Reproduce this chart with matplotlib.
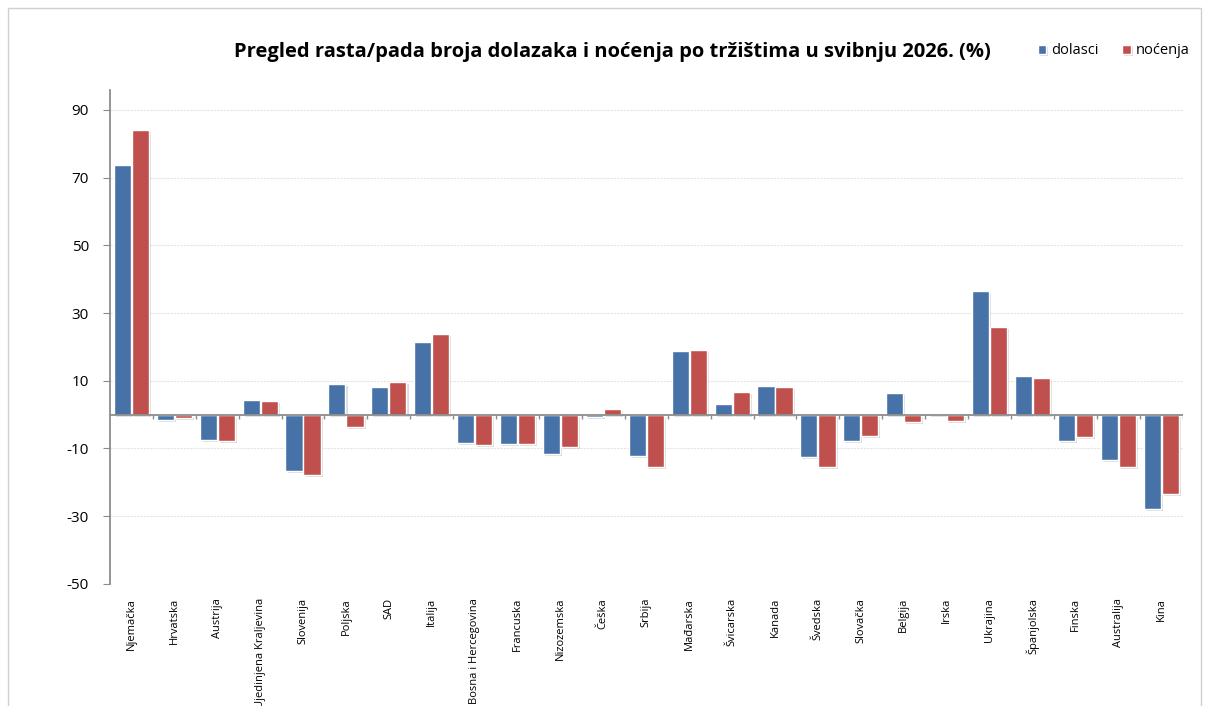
import numpy as np
import matplotlib.pyplot as plt
import matplotlib.patheffects as pe
from matplotlib.patches import Rectangle

plt.rcParams['font.family'] = ['Open Sans', 'DejaVu Sans']
plt.rcParams['axes.unicode_minus'] = False

markets = ["Njemačka", "Hrvatska", "Austrija", "Ujedinjena Kraljevina", "Slovenija",
           "Poljska", "SAD", "Italija", "Bosna i Hercegovina", "Francuska",
           "Nizozemska", "Češka", "Srbija", "Mađarska", "Švicarska", "Kanada",
           "Švedska", "Slovačka", "Belgija", "Irska", "Ukrajina", "Španjolska",
           "Finska", "Australija", "Kina"]
dolasci = [73.7, -1.6, -7.5, 4.3, -16.6, 9.1, 8.3, 21.5, -8.4, -8.7,
           -11.6, -0.8, -12.2, 18.8, 3.1, 8.6, -12.6, -7.9, 6.3, 0.2,
           36.6, 11.4, -7.9, -13.4, -27.9]
nocenja = [84.1, -1.0, -7.8, 4.0, -17.8, -3.6, 9.7, 23.8, -9.0, -8.7,
           -9.6, 1.8, -15.5, 19.0, 6.6, 8.3, -15.4, -6.2, -2.1, -1.8,
           25.8, 10.7, -6.5, -15.4, -23.5]
yticks = [-50, -30, -10, 10, 30, 50, 70, 90]

blue = "#4672A8"
red = "#C0504D"

fig = plt.figure(figsize=(12.08, 7.06), dpi=100)
ax = fig.add_axes([0.091, 0.173, 0.888, 0.700])

x = np.arange(len(markets))
w = 0.40
shadow = [pe.SimplePatchShadow(offset=(1.5, -1.5), shadow_rgbFace="#999999", alpha=0.35), pe.Normal()]
b1 = ax.bar(x - w / 2 - 0.01, dolasci, w, color=blue, edgecolor="white", linewidth=1.0,
            label="dolasci", zorder=3)
b2 = ax.bar(x + w / 2 + 0.01, nocenja, w, color=red, edgecolor="white", linewidth=1.0,
            label="noćenja", zorder=3)
for b in list(b1) + list(b2):
    b.set_path_effects(shadow)

ax.set_xlim(-0.5, len(markets) - 0.5)
ax.set_ylim(-50, 96)
ax.set_yticks(yticks)
ax.grid(axis="y", color="#e4e4e4", linestyle=(0, (2, 1)), linewidth=0.8, zorder=0)

# zero line with category separators
ax.axhline(0, color="#8c8c8c", linewidth=1.3, zorder=4)
ax.vlines(x + 0.5, -1.2, 0, color="#8c8c8c", linewidth=1.0, zorder=4)

for s in ["top", "right", "bottom"]:
    ax.spines[s].set_visible(False)
ax.spines["left"].set_color("#8c8c8c")
ax.spines["left"].set_linewidth(1.3)

ax.set_xticks(x)
ax.set_xticklabels(markets, rotation=90, fontsize=8, va="top", ha="center")
ax.tick_params(axis="x", length=0, pad=10)
ax.tick_params(axis="y", length=5, color="#8c8c8c", labelsize=11, pad=10)

fig.text(0.507, 0.926, "Pregled rasta/pada broja dolazaka i noćenja po tržištima u svibnju 2026. (%)",
         ha="center", va="center", fontsize=14.5, fontweight="bold")

fig.legend(handles=[b1, b2], labels=["dolasci", "noćenja"], loc="center left",
           bbox_to_anchor=(0.848, 0.928), ncol=2, frameon=False, fontsize=10.5,
           handlelength=0.6, handleheight=0.6, columnspacing=1.6, handletextpad=0.35)

fig.patches.append(Rectangle((0.007, -0.1), 0.987, 1.088, transform=fig.transFigure,
                             fill=False, edgecolor="#d0d0d0", linewidth=1.0))

fig.savefig("out.png", dpi=100)
